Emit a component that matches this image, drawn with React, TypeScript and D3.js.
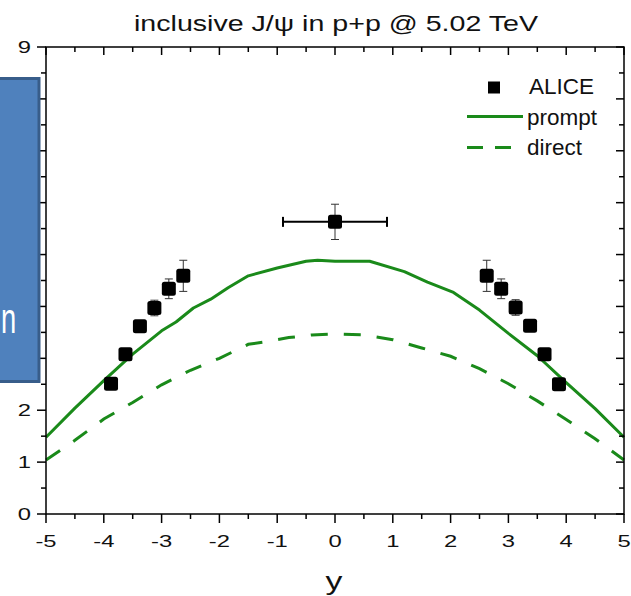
import React from 'react';
import * as d3 from 'd3';

const TITLE = 'inclusive J/\u03C8 in p+p @ 5.02 TeV';
const X_LABEL = 'y';
const X_TICKS = [-5, -4, -3, -2, -1, 0, 1, 2, 3, 4, 5];
const Y_TICKS = [0, 1, 2, 3, 4, 5, 6, 7, 8, 9];
const LEGEND = ['ALICE', 'prompt', 'direct'];

// ALICE data
const ALICE_X = [-3.875, -3.625, -3.375, -3.125, -2.875, -2.625, 0, 2.625, 2.875, 3.125, 3.375, 3.625, 3.875];
const ALICE_Y = [2.51, 3.08, 3.62, 3.97, 4.34, 4.59, 5.63, 4.59, 4.34, 3.98, 3.63, 3.08, 2.5];
const ALICE_YERR = [0.08, 0.08, 0.1, 0.15, 0.19, 0.3, 0.34, 0.3, 0.19, 0.15, 0.1, 0.08, 0.08];
const ALICE_XERR = [0, 0, 0, 0, 0, 0, 0.9, 0, 0, 0, 0, 0, 0];

// prompt curve
const PROMPT_X = [-5, -4.5, -4, -3.5, -3, -2.75, -2.45, -2.15, -1.85, -1.5, -1, -0.5, -0.3, 0, 0.6, 1.2, 1.6, 2.05, 2.5, 3, 3.5, 4, 4.5, 5];
const PROMPT_Y = [1.48, 2.04, 2.57, 3.08, 3.53, 3.7, 3.97, 4.14, 4.36, 4.59, 4.74, 4.87, 4.89, 4.87, 4.87, 4.67, 4.47, 4.27, 3.93, 3.48, 3.05, 2.53, 2.03, 1.48];

// direct curve
const DIRECT_X = [-5, -4.5, -4, -3.5, -3, -2.5, -2, -1.5, -1.2, -0.8, -0.4, 0, 0.5, 1, 1.5, 2, 2.5, 3, 3.5, 4, 4.5, 5];
const DIRECT_Y = [1.04, 1.42, 1.83, 2.15, 2.49, 2.77, 3.0, 3.27, 3.32, 3.4, 3.45, 3.47, 3.45, 3.36, 3.2, 3.04, 2.8, 2.51, 2.18, 1.82, 1.45, 1.04];

const W = 631;
const H = 596;
const GREEN = '#1a8a1a';
const FONT = '"Liberation Sans", Arial, sans-serif';

export default function App() {
  const x = d3.scaleLinear().domain([-5, 5]).range([46, 624]);
  const y = d3.scaleLinear().domain([0, 9]).range([514, 47]);
  const line = d3.line<[number, number]>().x(d => x(d[0])).y(d => y(d[1]));
  const prompt = PROMPT_X.map((v, i) => [v, PROMPT_Y[i]] as [number, number]);
  const direct = DIRECT_X.map((v, i) => [v, DIRECT_Y[i]] as [number, number]);

  const xMinor = d3.range(-5, 5.01, 0.5);
  const yMinor = d3.range(0, 9.01, 0.5);
  const isMajor = (v: number) => Math.abs(v - Math.round(v)) < 1e-6;

  return (
    <svg width={W} height={H} style={{ position: 'absolute', left: 0, top: 0, background: '#fff' }} fontFamily={FONT}>
      <rect x={0} y={0} width={W} height={H} fill="#fff" />
      {/* title */}
      <text x={336} y={30.5} fontSize={22.5} textAnchor="middle" textLength={404} lengthAdjust="spacingAndGlyphs" fill="#111">{TITLE}</text>

      {/* curves */}
      <path d={line(prompt) || ''} fill="none" stroke={GREEN} strokeWidth={3} strokeLinejoin="round" />
      <path d={line(direct) || ''} fill="none" stroke={GREEN} strokeWidth={3} strokeDasharray="17,16" />

      {/* frame */}
      <rect x={x(-5)} y={y(9)} width={x(5) - x(-5)} height={y(0) - y(9)} fill="none" stroke="#000" strokeWidth={1.5} />

      {/* bottom + top ticks */}
      {xMinor.map((v, i) => {
        const m = isMajor(v);
        return (
          <g key={'xt' + i}>
            <line x1={x(v)} x2={x(v)} y1={y(0)} y2={y(0) + (m ? 9 : 5)} stroke="#000" strokeWidth={1.5} />
            <line x1={x(v)} x2={x(v)} y1={y(9)} y2={y(9) + (m ? 8 : 5)} stroke="#000" strokeWidth={1.5} />
          </g>
        );
      })}
      {yMinor.map((v, i) => {
        const m = isMajor(v);
        return (
          <g key={'yt' + i}>
            <line x1={x(-5)} x2={x(-5) - (m ? 9 : 5)} y1={y(v)} y2={y(v)} stroke="#000" strokeWidth={1.5} />
            <line x1={x(5)} x2={x(5) - (m ? 8 : 5)} y1={y(v)} y2={y(v)} stroke="#000" strokeWidth={1.5} />
          </g>
        );
      })}

      {/* tick labels */}
      {X_TICKS.map(v => (
        <text key={'xl' + v} transform={`translate(${x(v)},${547}) scale(1.4,1)`} fontSize={17} textAnchor="middle" fill="#111">{String(v)}</text>
      ))}
      {Y_TICKS.map(v => (
        <text key={'yl' + v} transform={`translate(${31},${y(v) + 6}) scale(1.4,1)`} fontSize={17} textAnchor="end" fill="#111">{String(v)}</text>
      ))}
      <text transform={`translate(${334},${590}) scale(1.3,1)`} fontSize={26} textAnchor="middle" fill="#111">{X_LABEL}</text>

      {/* ALICE error bars and markers */}
      {ALICE_X.map((v, i) => {
        const cx = x(v);
        const cy = y(ALICE_Y[i]);
        const ye = ALICE_YERR[i];
        const xe = ALICE_XERR[i];
        return (
          <g key={'a' + i}>
            {ye > 0 && (
              <g stroke="#333" strokeWidth={1}>
                <line x1={cx} x2={cx} y1={y(ALICE_Y[i] + ye)} y2={y(ALICE_Y[i] - ye)} />
                <line x1={cx - 4} x2={cx + 4} y1={y(ALICE_Y[i] + ye)} y2={y(ALICE_Y[i] + ye)} />
                <line x1={cx - 4} x2={cx + 4} y1={y(ALICE_Y[i] - ye)} y2={y(ALICE_Y[i] - ye)} />
              </g>
            )}
            {xe > 0 && (
              <g stroke="#000" strokeWidth={2}>
                <line x1={x(v - xe)} x2={x(v + xe)} y1={cy} y2={cy} />
                <line x1={x(v - xe)} x2={x(v - xe)} y1={cy - 5} y2={cy + 5} />
                <line x1={x(v + xe)} x2={x(v + xe)} y1={cy - 5} y2={cy + 5} />
              </g>
            )}
            <rect x={cx - 7} y={cy - 7} width={14} height={14} rx={2.5} fill="#000" />
          </g>
        );
      })}

      {/* legend */}
      <rect x={488} y={81.5} width={12} height={12} fill="#000" />
      <text x={529} y={94} fontSize={22.5} fill="#111">{LEGEND[0]}</text>
      <line x1={467} x2={523} y1={116.5} y2={116.5} stroke={GREEN} strokeWidth={3} />
      <text x={527} y={124.5} fontSize={22.5} fill="#111">{LEGEND[1]}</text>
      <line x1={467} x2={515} y1={147.5} y2={147.5} stroke={GREEN} strokeWidth={3} strokeDasharray="16,12" />
      <text x={527} y={154.5} fontSize={22.5} fill="#111">{LEGEND[2]}</text>

      {/* overlay box */}
      <rect x={-10} y={78.5} width={49} height={303} fill="#4f81bd" stroke="#385d8a" strokeWidth={3} />
      <text transform={`translate(${1},${333}) scale(0.65,1)`} fontSize={42} textAnchor="start" fill="#fff">n</text>
    </svg>
  );
}
